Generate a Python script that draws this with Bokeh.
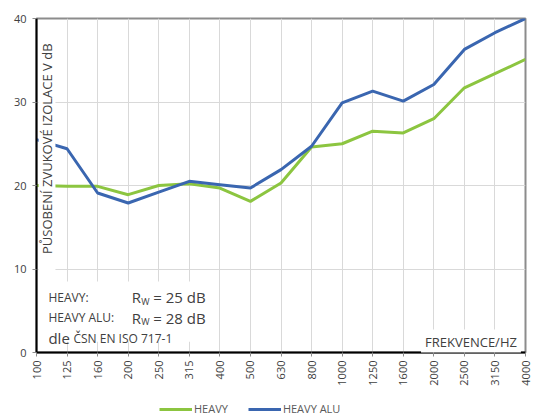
import math
from bokeh.plotting import figure
from bokeh.layouts import column
from bokeh.models import (Label, BoxAnnotation, Legend, LegendItem, FixedTicker,
                          ColumnDataSource)
from bokeh.embed import file_html
from bokeh.resources import INLINE

# ---- data ----
freqs = ["100", "125", "160", "200", "250", "315", "400", "500", "630", "800",
         "1000", "1250", "1600", "2000", "2500", "3150", "4000"]
heavy = [20.0, 19.9, 19.9, 18.9, 20.0, 20.2, 19.7, 18.1, 20.3, 24.6,
         25.0, 26.5, 26.3, 28.0, 31.7, 33.4, 35.1]
heavy_alu = [25.5, 24.4, 19.1, 17.9, 19.2, 20.5, 20.1, 19.7, 21.9, 24.7,
             29.9, 31.3, 30.1, 32.1, 36.3, 38.3, 40.0]
y_ticks = [0, 10, 20, 30, 40]
series_names = ["HEAVY", "HEAVY ALU"]

GREEN = "#8CC540"
BLUE = "#3A66B0"
TXT = "#404040"
FONT = "Open Sans"

idx = list(range(len(freqs)))
src = ColumnDataSource(dict(x=idx, heavy=heavy, alu=heavy_alu))

p = figure(width=533, height=397, output_backend="svg", toolbar_location=None,
           x_range=(0, len(freqs) - 1), y_range=(0, 40),
           min_border_left=36, min_border_right=8, min_border_top=18,
           min_border_bottom=45)
p.background_fill_color = "white"
p.border_fill_color = "white"
p.outline_line_color = "#8C8C8C"
p.outline_line_width = 2

# grids
p.xgrid.ticker = FixedTicker(ticks=idx)
p.ygrid.ticker = FixedTicker(ticks=y_ticks)
p.xgrid.grid_line_color = "#D9D9D9"
p.ygrid.grid_line_color = "#D9D9D9"

# axes
p.xaxis.ticker = FixedTicker(ticks=idx)
p.xaxis.major_label_overrides = {i: f for i, f in enumerate(freqs)}
p.xaxis.major_label_orientation = math.pi / 2
p.yaxis.ticker = FixedTicker(ticks=y_ticks)
for ax in (p.xaxis[0], p.yaxis[0]):
    ax.axis_line_color = "black"
    ax.axis_line_width = 2
    ax.major_tick_line_color = "#8C8C8C"
    ax.major_tick_in = 0
    ax.major_tick_out = 4
    ax.minor_tick_line_color = None
    ax.major_label_text_font = FONT
    ax.major_label_text_font_size = "11px"
    ax.major_label_text_color = TXT
p.yaxis.major_label_standoff = 6
p.xaxis.major_label_standoff = 4

# lines
r1 = p.line("x", "heavy", source=src, line_color=GREEN, line_width=3)
r2 = p.line("x", "alu", source=src, line_color=BLUE, line_width=3)

# white boxes hiding grid/lines behind texts
p.add_layout(BoxAnnotation(left=0.07, right=0.62, bottom=9.1, top=39.6,
                           fill_color="white", fill_alpha=1, line_color=None))
p.add_layout(BoxAnnotation(left=0.07, right=5.85, bottom=1.3, top=8.5,
                           fill_color="white", fill_alpha=1, line_color=None))

# y-axis title inside plot
p.add_layout(Label(x=0.33, y=11.8, text="PŮSOBENÍ ZVUKOVÉ IZOLACE V dB",
                   angle=math.pi / 2, text_align="left", text_baseline="middle",
                   text_font=FONT, text_font_size="13px", text_color=TXT))

# x-axis title inside plot
p.add_layout(Label(x=15.85, y=1.2, text="FREKVENCE/HZ", text_align="right",
                   text_baseline="alphabetic", text_font=FONT,
                   text_font_size="13px", text_color=TXT,
                   background_fill_color="white", background_fill_alpha=1,
                   padding=4))

# annotation block
def lab(x, y, t, size):
    p.add_layout(Label(x=x, y=y, text=t, text_align="left",
                       text_baseline="alphabetic", text_font=FONT,
                       text_font_size=size, text_color=TXT))

lab(0.39, 6.62, "HEAVY:", "12px")
lab(3.12, 6.62, "R", "15px")
lab(3.43, 6.1, "W", "9px")
lab(3.82, 6.62, "= 25 dB", "15px")
lab(0.39, 4.19, "HEAVY ALU:", "12px")
lab(3.12, 4.19, "R", "15px")
lab(3.43, 3.67, "W", "9px")
lab(3.82, 4.19, "= 28 dB", "15px")
lab(0.39, 1.68, "dle", "15px")
lab(1.21, 1.68, "ČSN EN ISO 717-1", "12px")

# legend strip below the chart (same series styles, drawn off-range)
lf = figure(width=533, height=20, output_backend="svg", toolbar_location=None,
            x_range=(0, 1), y_range=(0, 1), min_border=0)
lf.axis.visible = False
lf.grid.visible = False
lf.outline_line_color = None
lf.background_fill_color = "white"
lf.border_fill_color = "white"
g1 = lf.line(x=[-5, -4], y=[-5, -5], line_color=GREEN, line_width=3)
g2 = lf.line(x=[-5, -4], y=[-5, -5], line_color=BLUE, line_width=3)
legend = Legend(items=[LegendItem(label=series_names[0], renderers=[g1]),
                       LegendItem(label=series_names[1], renderers=[g2])],
                orientation="horizontal", location=(123, 1),
                glyph_width=33, glyph_height=12, label_height=12,
                label_standoff=2, spacing=20, padding=0, margin=0,
                border_line_color=None, background_fill_alpha=0,
                label_text_font=FONT, label_text_font_size="11px",
                label_text_color="#595959")
lf.add_layout(legend, "center")

layout = column(p, lf, spacing=0)
open("out.html", "w").write(file_html(layout, INLINE))
